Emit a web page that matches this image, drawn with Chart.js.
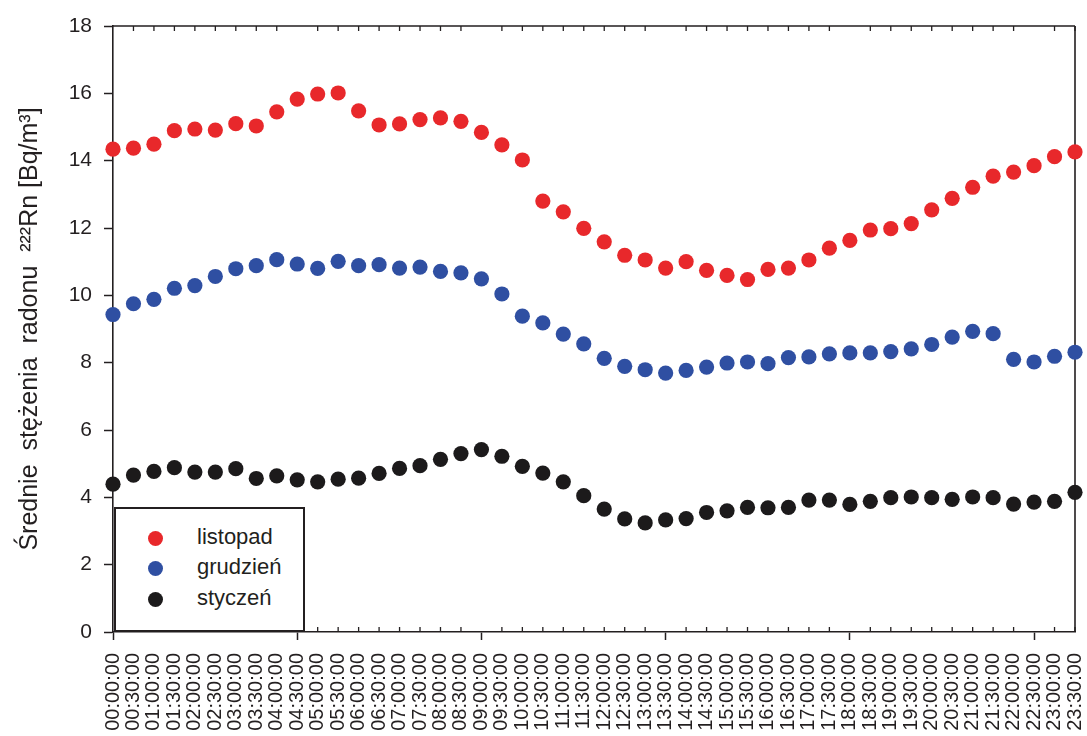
<!DOCTYPE html>
<html>
<head>
<meta charset="utf-8">
<script src="https://cdn.jsdelivr.net/npm/chart.js@4/dist/chart.umd.min.js"></script>
<style>
  html, body { margin: 0; padding: 0; background: #fff; }
  #wrap { position: relative; width: 1087px; height: 736px; }
  #legend { position: absolute; left: 114px; top: 507px; width: 187px; height: 121px;
            border: 2px solid #231f20; background: #fff; font-family: "Liberation Sans", Arial, sans-serif; }
  .item { position: absolute; left: 0; height: 30px; width: 100%; }
  .dot { position: absolute; left: 32px; top: 8px; width: 15px; height: 15px; border-radius: 50%; }
  .lbl { position: absolute; left: 81px; top: 1px; font-size: 22px; line-height: 26px; color: #231f20; }
</style>
</head>
<body>
<div id="wrap">
  <canvas id="c" width="1087" height="736"></canvas>
  <div id="legend"></div>
</div>
<script>
const categories = ["00:00:00","00:30:00","01:00:00","01:30:00","02:00:00","02:30:00","03:00:00","03:30:00",
  "04:00:00","04:30:00","05:00:00","05:30:00","06:00:00","06:30:00","07:00:00","07:30:00",
  "08:00:00","08:30:00","09:00:00","09:30:00","10:00:00","10:30:00","11:00:00","11:30:00",
  "12:00:00","12:30:00","13:00:00","13:30:00","14:00:00","14:30:00","15:00:00","15:30:00",
  "16:00:00","16:30:00","17:00:00","17:30:00","18:00:00","18:30:00","19:00:00","19:30:00",
  "20:00:00","20:30:00","21:00:00","21:30:00","22:00:00","22:30:00","23:00:00","23:30:00"];

const listopad = [14.34,14.37,14.49,14.89,14.94,14.91,15.10,15.03,15.45,15.83,15.98,16.01,
  15.48,15.06,15.09,15.22,15.27,15.17,14.84,14.47,14.02,12.80,12.48,11.99,
  11.59,11.19,11.05,10.81,11.00,10.74,10.59,10.47,10.77,10.81,11.05,11.40,
  11.63,11.94,11.98,12.13,12.54,12.88,13.21,13.54,13.66,13.85,14.12,14.26];

const grudzien = [9.43,9.75,9.88,10.21,10.29,10.56,10.79,10.88,11.06,10.93,10.80,11.01,
  10.88,10.91,10.81,10.84,10.71,10.67,10.49,10.04,9.38,9.18,8.85,8.56,
  8.13,7.89,7.79,7.69,7.77,7.87,7.99,8.02,7.97,8.15,8.17,8.26,
  8.29,8.29,8.33,8.41,8.54,8.76,8.93,8.86,8.10,8.02,8.19,8.31];

const styczen = [4.39,4.66,4.77,4.88,4.75,4.75,4.85,4.56,4.64,4.52,4.46,4.54,
  4.57,4.71,4.86,4.94,5.13,5.30,5.42,5.22,4.92,4.72,4.46,4.05,
  3.65,3.36,3.24,3.33,3.37,3.55,3.60,3.70,3.69,3.70,3.92,3.92,
  3.79,3.88,3.99,4.01,3.99,3.94,4.01,3.99,3.80,3.86,3.88,4.15];

const seriesNames = ["listopad", "grudzień", "styczeń"];
const seriesColors = ["#e8282b", "#2f4fa2", "#1c1a1b"];
const yTicks = [0, 2, 4, 6, 8, 10, 12, 14, 16, 18];

const AX = "#231f20";
const FONT = '"Liberation Sans", Arial, sans-serif';

const framePlugin = {
  id: 'frame',
  beforeDatasetsDraw(chart) {
    const ctx = chart.ctx, a = chart.chartArea, xs = chart.scales.x;
    ctx.save();
    ctx.strokeStyle = AX;
    ctx.lineWidth = 1.6;
    ctx.beginPath();
    ctx.moveTo(a.left, a.top); ctx.lineTo(a.right, a.top);
    ctx.moveTo(a.right, a.top); ctx.lineTo(a.right, a.bottom);
    ctx.stroke();
    ctx.lineWidth = 1.3;
    ctx.beginPath();
    for (let i = 0; i < categories.length; i++) {
      if (i % 9 === 0) continue;
      const x = xs.getPixelForValue(i);
      ctx.moveTo(x, a.bottom); ctx.lineTo(x, a.bottom - 5);
      ctx.moveTo(x, a.top); ctx.lineTo(x, a.top + 5);
    }
    ctx.stroke();
    ctx.restore();
  }
};

const datasets = [listopad, grudzien, styczen].map((d, k) => ({
  label: seriesNames[k],
  data: d,
  showLine: false,
  pointRadius: 7.6,
  pointHoverRadius: 7.6,
  pointBackgroundColor: seriesColors[k],
  pointBorderWidth: 0,
  borderColor: seriesColors[k],
  backgroundColor: seriesColors[k],
  clip: false
}));

new Chart(document.getElementById('c'), {
  type: 'line',
  data: { labels: categories, datasets: datasets },
  plugins: [framePlugin],
  options: {
    responsive: false,
    animation: false,
    events: [],
    layout: { padding: { top: 26, right: 12, left: 0, bottom: 0 } },
    plugins: { legend: { display: false }, tooltip: { enabled: false } },
    scales: {
      x: {
        type: 'category',
        offset: false,
        border: { display: true, color: AX, width: 1.6 },
        grid: {
          display: true, drawOnChartArea: false, drawTicks: true, tickLength: 8,
          tickWidth: 1.5,
          tickColor: (c) => (c.index % 9 === 0 ? AX : 'rgba(0,0,0,0)')
        },
        ticks: {
          autoSkip: false, minRotation: 90, maxRotation: 90, padding: 13,
          color: AX, font: { family: FONT, size: 20 }
        },
        afterFit(scale) { scale.height = 104; scale.paddingLeft = 0; scale.paddingRight = 0; }
      },
      y: {
        min: 0, max: 18,
        border: { display: true, color: AX, width: 1.6 },
        grid: { display: true, drawOnChartArea: false, tickLength: 9, tickWidth: 1.5, tickColor: AX },
        afterBuildTicks(scale) { scale.ticks = yTicks.map(v => ({ value: v })); },
        ticks: { padding: 12, color: AX, font: { family: FONT, size: 21 } },
        title: {
          display: true,
          text: 'Średnie  stężenia  radonu  ²²²Rn [Bq/m³]',
          color: AX,
          font: { family: FONT, size: 25 },
          padding: { top: 15, bottom: 0 }
        },
        afterFit(scale) { scale.width = 113; scale.paddingTop = 0; scale.paddingBottom = 0; }
      }
    }
  }
});

const lg = document.getElementById('legend');
const tops = [14, 44, 75];
seriesNames.forEach((n, k) => {
  const it = document.createElement('div');
  it.className = 'item';
  it.style.top = tops[k] + 'px';
  it.innerHTML = '<div class="dot" style="background:' + seriesColors[k] + '"></div><div class="lbl">' + n + '</div>';
  lg.appendChild(it);
});
</script>
</body>
</html>
